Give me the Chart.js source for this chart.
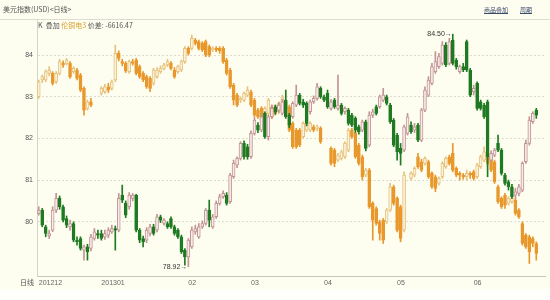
<!DOCTYPE html>
<html>
<head>
<meta charset="utf-8">
<script src="https://cdn.jsdelivr.net/npm/chart.js@4.4.1/dist/chart.umd.min.js"></script>
<style>
  body { margin: 0; background: #fdfdf0; }
  #wrap { position: relative; width: 550px; height: 300px; }
  .lbl { position: absolute; white-space: nowrap; font-family: "Noto Sans CJK SC", "Liberation Sans", sans-serif; line-height: 1; }
</style>
</head>
<body>
<div id="wrap">
  <canvas id="kline" width="550" height="300"></canvas>
  <span class="lbl" style="left:3px;top:6px;font-size:7px;color:#555">美元指数(USD)&lt;日线&gt;</span>
  <span class="lbl" style="left:38px;top:22px;font-size:7px;color:#555">K&nbsp;&nbsp;叠加 <span style="color:#d9a030">伦铜电3</span> 价差: -6616.47</span>
  <span class="lbl" style="left:484px;top:7px;font-size:6px;color:#3a4a6a;text-decoration:underline">商品叠加</span>
  <span class="lbl" style="left:520px;top:7px;font-size:6px;color:#3a4a6a;text-decoration:underline">周期</span>
  <span class="lbl" style="left:20px;top:279px;font-size:7px;color:#555">日线</span>
</div>
<script>
// month label shown at the first candle of each month
const monthTicks = { 0: "201212", 18: "201301", 43: "02", 61: "03", 82: "04", 103: "05", 125: "06" }
const slotCount = 146

// US dollar index, daily [open, high, low, close]
const usdOHLC = [
  [80.20,80.36,80.16,80.28],[80.28,80.32,79.88,79.92],[79.88,79.92,79.64,79.72],[79.66,79.80,79.60,79.72],
  [79.80,80.36,79.76,80.28],[80.28,80.68,80.22,80.56],[80.56,80.62,80.30,80.36],[80.36,80.40,80.00,80.04],
  [80.08,80.14,79.86,79.92],[79.88,80.04,79.80,79.96],[79.96,80.00,79.52,79.56],[79.56,79.64,79.44,79.52],
  [79.60,79.64,79.32,79.36],[79.32,79.44,79.08,79.40],[79.40,79.46,79.08,79.28],[79.36,79.70,79.30,79.64],
  [79.60,79.84,79.56,79.76],[79.72,79.80,79.60,79.68],[79.72,79.80,79.56,79.60],[79.64,79.80,79.58,79.72],
  [79.68,79.86,79.62,79.80],[79.76,79.92,79.72,79.84],[79.84,79.90,79.32,79.80],[79.80,80.68,79.76,80.56],
  [80.64,80.88,80.46,80.52],[80.44,80.50,80.10,80.16],[80.36,80.70,80.30,80.64],[80.56,80.68,80.50,80.64],
  [80.64,80.66,79.76,79.80],[79.80,79.84,79.50,79.56],[79.60,79.66,79.40,79.52],[79.56,79.86,79.50,79.80],
  [79.72,79.94,79.66,79.88],[79.88,79.94,79.68,79.72],[79.80,80.18,79.76,80.12],[80.12,80.16,79.98,80.04],
  [79.96,80.08,79.92,80.04],[79.96,80.00,79.84,79.88],[80.08,80.12,79.84,79.88],[79.88,79.92,79.68,79.72],
  [79.80,79.84,79.60,79.64],[79.64,79.68,79.24,79.28],[79.32,79.36,78.96,79.16],[79.16,79.60,78.92,79.56],
  [79.40,79.88,79.36,79.80],[79.76,79.92,79.70,79.84],[79.64,79.96,79.60,79.88],[79.88,80.02,79.84,79.96],
  [79.96,80.32,79.92,80.28],[80.28,80.52,79.88,80.04],[79.88,80.18,79.84,80.12],[80.12,80.50,80.08,80.44],
  [80.44,80.66,80.40,80.60],[80.60,80.74,80.56,80.68],[80.64,80.70,80.40,80.44],[80.48,81.16,80.44,81.12],
  [81.08,81.48,81.04,81.40],[81.36,81.56,81.30,81.52],[81.52,81.92,81.48,81.88],[81.88,81.94,81.50,81.56],
  [81.80,81.86,81.50,81.56],[81.56,82.18,81.52,82.12],[82.12,82.50,82.08,82.44],[82.32,82.38,82.14,82.20],
  [82.20,82.58,82.16,82.52],[82.60,82.64,82.00,82.04],[82.04,82.56,81.96,82.52],[82.52,82.80,82.48,82.72],
  [82.76,82.80,82.58,82.64],[82.68,82.86,82.62,82.80],[82.60,82.94,82.56,82.88],[82.92,83.16,82.48,82.52],
  [82.56,82.60,82.26,82.32],[82.52,82.88,82.48,82.84],[82.80,83.28,82.76,83.04],[83.04,83.08,82.80,82.84],
  [82.88,82.94,82.74,82.80],[82.84,82.88,82.30,82.36],[82.64,82.92,82.58,82.88],[82.88,83.02,82.84,82.96],
  [82.96,83.32,82.92,83.24],[83.20,83.24,82.96,83.00],[83.00,83.04,82.88,82.92],[83.08,83.16,82.72,82.76],
  [82.72,82.94,82.68,82.88],[82.92,82.96,82.72,82.76],[82.72,83.52,82.68,82.80],[82.80,82.84,82.56,82.60],
  [82.64,82.76,82.58,82.72],[82.68,82.72,82.32,82.36],[82.56,82.60,82.28,82.32],[82.48,82.52,82.14,82.20],
  [82.28,82.32,82.10,82.16],[82.20,82.44,82.16,82.40],[82.40,82.44,81.70,81.76],[81.84,82.64,81.80,82.56],
  [82.56,82.70,82.50,82.64],[82.76,82.80,82.56,82.60],[82.76,83.04,82.72,83.00],[82.92,83.20,82.88,83.04],
  [83.00,83.04,82.80,82.84],[82.80,82.84,82.36,82.40],[82.44,82.48,81.80,81.84],[82.08,82.12,81.48,81.68],
  [81.76,81.88,81.36,81.64],[81.72,82.32,81.68,82.28],[82.12,82.60,82.08,82.52],[82.32,82.40,82.12,82.16],
  [82.20,82.36,82.14,82.28],[82.32,82.36,81.92,81.96],[81.96,82.72,81.92,82.68],[82.68,83.24,82.64,83.16],
  [83.04,83.48,83.00,83.40],[83.32,83.80,83.28,83.72],[83.60,84.08,83.56,83.84],[83.72,84.04,83.68,83.96],
  [83.80,84.32,83.76,84.24],[84.24,84.30,83.72,83.76],[83.80,84.40,83.76,84.32],[84.36,84.50,83.76,83.80],
  [83.88,83.92,83.66,83.72],[83.60,83.76,83.56,83.72],[83.72,83.80,83.60,83.64],[84.32,84.36,83.60,83.64],
  [83.64,83.68,83.00,83.04],[83.12,83.28,83.04,83.20],[83.32,83.36,82.68,82.72],[82.88,82.92,82.68,82.72],
  [82.80,82.84,82.48,82.52],[82.88,82.92,81.08,81.56],[81.48,81.70,81.44,81.64],[81.60,81.76,81.56,81.72],
  [81.88,82.08,81.68,81.72],[81.72,81.76,81.12,81.16],[81.12,81.16,80.88,80.92],[80.96,81.00,80.76,80.84],
  [80.84,80.90,80.56,80.60],[80.64,80.80,80.56,80.72],[80.68,80.90,80.62,80.84],[80.76,81.44,80.72,81.40],
  [81.44,81.96,81.40,81.88],[81.88,82.52,81.84,82.44],[82.40,82.64,82.36,82.60],[82.68,82.72,82.48,82.56],
]

// overlaid LME copper (伦铜电3), rescaled to the same axis, [open, high, low, close]
const copperOHLC = [
  [83.00,83.40,82.96,83.36],[83.40,83.52,83.34,83.48],[83.40,83.64,83.36,83.60],[83.56,83.72,83.50,83.64],
  [83.56,83.60,83.28,83.32],[83.36,83.60,83.32,83.56],[83.56,83.90,83.52,83.84],[83.80,83.86,83.70,83.76],
  [83.80,83.92,83.76,83.88],[83.80,83.84,83.44,83.48],[83.60,83.72,83.56,83.68],[83.64,83.68,83.40,83.44],
  [83.52,83.56,83.12,83.16],[83.20,83.24,82.56,82.68],[82.72,82.92,82.68,82.88],[82.88,82.96,82.76,82.80],
  null,null,[83.08,83.24,83.04,83.20],[83.12,83.30,83.08,83.24],
  [83.24,83.32,83.10,83.16],[83.20,83.40,83.16,83.36],[83.40,84.24,83.36,84.04],[84.04,84.10,83.86,83.92],
  [83.84,83.90,83.74,83.80],[83.80,83.84,83.58,83.62],[83.60,83.88,83.56,83.84],[83.84,83.90,83.76,83.80],
  [83.88,83.92,83.52,83.56],[83.72,83.76,83.44,83.48],[83.56,83.60,83.36,83.40],[83.48,83.52,83.20,83.24],
  [83.44,83.48,83.12,83.20],[83.32,83.68,83.28,83.64],[83.48,83.70,83.44,83.64],[83.60,83.74,83.56,83.68],
  [83.68,83.80,83.64,83.76],[83.76,83.90,83.72,83.84],[83.80,83.84,83.64,83.68],[83.64,83.70,83.44,83.48],
  [83.60,83.76,83.56,83.72],[83.64,83.88,83.60,83.84],[83.84,84.20,83.80,84.16],[84.16,84.20,84.00,84.04],
  [84.16,84.48,84.12,84.40],[84.36,84.40,84.24,84.28],[84.32,84.36,84.12,84.16],[84.28,84.32,84.08,84.12],
  [84.32,84.36,83.96,84.00],[84.20,84.24,83.96,84.00],[84.12,84.20,84.08,84.16],[84.16,84.20,84.08,84.12],
  [84.16,84.20,84.04,84.10],[84.16,84.20,83.80,83.84],[83.88,83.92,83.52,83.56],[83.64,83.68,83.20,83.24],
  [83.28,83.32,82.80,82.92],[83.04,83.08,82.76,82.80],[82.92,83.00,82.86,82.96],[82.92,83.12,82.88,83.08],
  [83.04,83.24,83.00,83.16],[83.12,83.16,82.76,82.80],[82.92,82.96,82.52,82.56],[82.68,82.72,82.48,82.52],
  [82.72,82.76,82.40,82.44],[82.52,82.76,82.48,82.72],[82.60,82.96,82.56,82.92],[82.76,82.80,82.48,82.52],
  [82.76,82.80,82.56,82.60],[82.64,82.88,82.60,82.84],[82.76,83.04,82.72,83.00],[82.88,82.92,82.64,82.68],
  [82.76,82.80,82.16,82.20],[82.36,82.40,81.76,81.80],[82.20,82.24,81.76,81.80],[82.20,82.24,81.80,81.84],
  [82.04,82.40,82.00,82.36],[82.20,82.56,82.16,82.52],[82.20,82.40,82.16,82.36],[82.28,82.32,82.16,82.20],
  [82.24,82.32,82.18,82.28],[82.24,82.28,81.88,81.92],null,null,
  [81.76,81.80,81.36,81.40],[81.72,81.76,81.32,81.40],[81.48,81.64,81.44,81.60],[81.52,81.72,81.48,81.68],
  [81.56,81.92,81.52,81.88],[81.72,82.24,81.68,82.20],[82.20,82.24,82.00,82.04],[82.12,82.16,81.52,81.56],
  [81.84,81.88,81.36,81.40],[81.56,81.60,81.00,81.08],[81.12,81.28,81.08,81.24],[81.24,81.28,80.32,80.36],
  [80.44,80.48,79.56,80.04],[80.32,80.36,79.92,79.96],[80.00,80.04,79.56,79.72],[80.04,80.08,79.48,79.56],
  [80.00,80.32,79.96,80.28],[80.28,80.92,80.24,80.84],[80.84,80.88,80.40,80.44],[80.56,80.60,79.76,79.80],
  [80.36,80.40,79.52,79.60],[79.80,81.20,79.76,81.12],null,[81.04,81.20,81.00,81.16],
  [81.12,81.32,81.08,81.28],[81.56,81.64,81.28,81.32],[81.44,81.50,81.20,81.24],[81.40,81.56,81.36,81.52],
  [81.44,81.48,81.04,81.08],[81.16,81.20,80.80,80.84],[81.08,81.12,80.72,80.80],[80.92,81.08,80.88,81.04],
  [81.08,81.44,81.04,81.40],[81.32,81.56,81.28,81.52],[81.56,81.60,81.36,81.40],[81.64,81.88,81.20,81.24],
  [81.28,81.32,81.08,81.12],[81.16,81.20,81.00,81.12],[81.12,81.16,81.02,81.08],[81.08,81.24,81.00,81.16],
  [81.16,81.20,81.04,81.12],[81.20,81.24,81.00,81.04],[81.08,81.40,81.04,81.36],[81.32,81.60,81.28,81.56],
  [81.48,81.80,81.44,81.68],[81.60,81.64,81.36,81.40],[81.56,81.60,81.20,81.24],[81.44,81.48,80.92,80.96],
  [80.84,80.88,80.44,80.48],[80.56,80.60,80.32,80.36],[80.64,80.68,80.32,80.40],[80.44,80.60,80.40,80.56],
  [80.48,80.60,80.44,80.56],[80.52,80.56,80.16,80.20],[80.28,80.32,80.08,80.12],[79.96,80.00,79.44,79.48],
  [79.68,79.72,79.36,79.40],[79.64,79.68,79.00,79.28],[79.60,79.64,79.40,79.48],[79.48,79.52,79.08,79.24],
]

const categories = Array.from({ length: slotCount }, (_, i) => monthTicks[i] || "")

const isUp = (rows, i) => rows[i] && rows[i][3] >= rows[i][0]
const bodies = rows => rows.map(d => (d ? [d[0], d[3]] : null))
const wicks = rows => rows.map(d => (d ? [d[2], d[1]] : null))

const usdColors = { upFill: "#f7ecea", upLine: "#c29494", down: "#1f7a22" }
const cuColors = { upFill: "#fbf2dc", upLine: "#e6c27e", down: "#e8982c" }

function candleSets(rows, colors, order) {
  return [
    {
      data: wicks(rows),
      barThickness: 1,
      borderWidth: 0,
      grouped: false,
      order: order + 1,
      backgroundColor: c => (isUp(rows, c.dataIndex) ? colors.upLine : colors.down),
    },
    {
      data: bodies(rows),
      barThickness: 3,
      borderWidth: 1,
      borderSkipped: false,
      minBarLength: 1,
      grouped: false,
      order: order,
      backgroundColor: c => (isUp(rows, c.dataIndex) ? colors.upFill : colors.down),
      borderColor: c => (isUp(rows, c.dataIndex) ? colors.upLine : colors.down),
    },
  ]
}

const frame = {
  id: "frame",
  beforeDraw(chart) {
    const ctx = chart.ctx
    ctx.save()
    ctx.fillStyle = "#fdfdf0"
    ctx.fillRect(0, 0, chart.width, chart.height)
    ctx.fillStyle = "#fefefb"
    ctx.fillRect(0, 289, chart.width, chart.height - 289)
    ctx.strokeStyle = "#dcdcd0"
    ctx.beginPath()
    ctx.moveTo(0, 19.5)
    ctx.lineTo(chart.width, 19.5)
    ctx.stroke()
    ctx.restore()
  },
  afterDatasetsDraw(chart) {
    const ctx = chart.ctx
    const xs = chart.scales.x
    const ys = chart.scales.y
    let hi = 0
    let lo = 0
    usdOHLC.forEach((d, i) => {
      if (d[1] > usdOHLC[hi][1]) hi = i
      if (d[2] < usdOHLC[lo][2]) lo = i
    })
    ctx.save()
    ctx.font = "7px 'Liberation Sans'"
    ctx.fillStyle = "#333"
    ctx.textAlign = "right"
    ctx.textBaseline = "middle"
    ctx.fillText(usdOHLC[hi][1].toFixed(2) + "→", xs.getPixelForValue(hi) - 1, ys.getPixelForValue(usdOHLC[hi][1]))
    ctx.fillText(usdOHLC[lo][2].toFixed(2) + "→", xs.getPixelForValue(lo) - 1, ys.getPixelForValue(usdOHLC[lo][2]))
    ctx.restore()
  },
}

new Chart(document.getElementById("kline"), {
  type: "bar",
  data: {
    labels: categories,
    datasets: [...candleSets(usdOHLC, usdColors, 1), ...candleSets(copperOHLC, cuColors, 3)],
  },
  options: {
    responsive: false,
    animation: false,
    layout: { padding: { left: 0, right: 5, top: 20, bottom: 0 } },
    plugins: { legend: { display: false }, tooltip: { enabled: false } },
    scales: {
      x: {
        grid: { display: false, drawTicks: false },
        border: { color: "#c8c8bc" },
        ticks: {
          autoSkip: false,
          maxRotation: 0,
          align: "start",
          padding: 3,
          color: "#666",
          font: { size: 7, family: "'Liberation Sans'" },
          callback: (v, i) => monthTicks[i] ?? null,
        },
        afterFit: s => {
          s.height = 24
        },
      },
      y: {
        min: 78.7,
        max: 84.84,
        grid: { color: "#dedcd0", drawTicks: false },
        border: { color: "#d4d4c8", dash: [2, 2] },
        ticks: {
          stepSize: 1,
          includeBounds: false,
          padding: 4,
          color: "#555",
          font: { size: 7, family: "'Liberation Sans'" },
          callback: v => (v >= 80 ? v : null),
        },
        afterFit: s => {
          s.width = 37
        },
      },
    },
  },
  plugins: [frame],
})
</script>
</body>
</html>
